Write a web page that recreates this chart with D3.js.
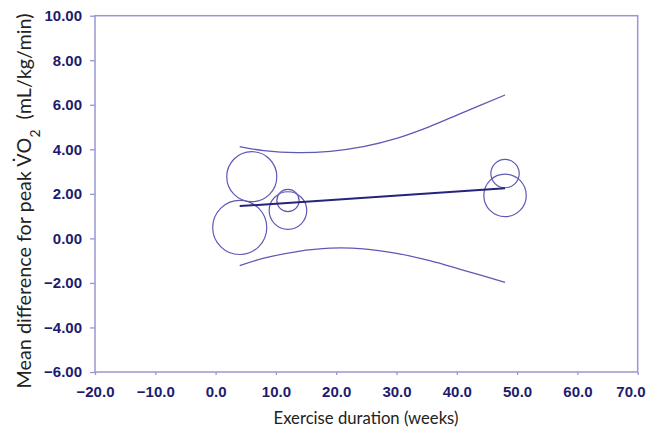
<!DOCTYPE html>
<html>
<head>
<meta charset="utf-8">
<script src="https://cdn.jsdelivr.net/npm/d3@7"></script>
<style>
  body { margin: 0; background: #fff; }
  svg { display: block; }
  .tick text { font-family: "Liberation Sans", Arial, sans-serif; font-weight: bold; font-size: 15px; fill: #1d1b6e; }
  .tick line { stroke: #9a96d0; stroke-width: 1.3; }
  .title { font-family: Lato, "Liberation Sans", sans-serif; fill: #222; }
</style>
</head>
<body>
<svg id="chart" width="646" height="432"></svg>
<script>
// studies: duration (weeks), mean difference, weight (%)
const studyWeeks = [4, 6, 12, 12, 48, 48];
const studyDiff = [0.49, 2.77, 1.25, 1.70, 2.91, 1.93];
const studyWeight = [29.4, 25.2, 14.2, 5.0, 8.1, 18.1];

// meta-regression line
const regWeeks = [4, 48];
const regDiff = [1.45, 2.25];

// confidence band
const bandWeeks = [4, 8, 13.5, 19, 24.5, 30, 35.5, 41, 48];
const bandUpper = [4.12, 3.94, 3.85, 3.91, 4.12, 4.49, 5.02, 5.65, 6.44];
const bandLower = [-1.22, -0.89, -0.59, -0.44, -0.47, -0.67, -1.00, -1.42, -1.97];

const xTicks = [-20, -10, 0, 10, 20, 30, 40, 50, 60, 70];
const yTicks = [-6, -4, -2, 0, 2, 4, 6, 8, 10];

const svg = d3.select("#chart");
const x = d3.scaleLinear().domain([-20, 70]).range([95, 637.7]);
const y = d3.scaleLinear().domain([-6, 10]).range([372, 15.7]);
const r = d3.scaleSqrt().domain([0, 30]).range([0, 27.3]);

// frame
svg.append("rect")
  .attr("x", x(-20)).attr("y", y(10))
  .attr("width", x(70) - x(-20)).attr("height", y(-6) - y(10))
  .attr("fill", "none").attr("stroke", "#9a96d0").attr("stroke-width", 1.5);

// axes
const yAxis = svg.append("g")
  .attr("transform", `translate(${x(-20)},0)`)
  .call(d3.axisLeft(y).tickValues(yTicks).tickFormat(d3.format(".2f")).tickSize(5).tickPadding(8).tickSizeOuter(0));
yAxis.select(".domain").remove();

const xAxis = svg.append("g")
  .attr("transform", `translate(0,${y(-6)})`)
  .call(d3.axisBottom(x).tickValues(xTicks).tickFormat(d3.format(".1f")).tickSize(3).tickPadding(11.5).tickSizeOuter(0));
xAxis.select(".domain").remove();
// last label sits against the right edge
xAxis.selectAll(".tick text").filter(d => d === 70)
  .attr("text-anchor", "end").attr("x", 646 - x(70) - 1);

// confidence band curves
const bandLine = vals => d3.line()
  .x((d, i) => x(bandWeeks[i]))
  .y(d => y(d))
  .curve(d3.curveCatmullRom)(vals);

svg.append("path").attr("d", bandLine(bandUpper))
  .attr("fill", "none").attr("stroke", "#5e59b4").attr("stroke-width", 1.3);
svg.append("path").attr("d", bandLine(bandLower))
  .attr("fill", "none").attr("stroke", "#5e59b4").attr("stroke-width", 1.3);

// study circles
svg.append("g").selectAll("circle")
  .data(studyWeeks)
  .join("circle")
  .attr("cx", d => x(d))
  .attr("cy", (d, i) => y(studyDiff[i]))
  .attr("r", (d, i) => r(studyWeight[i]))
  .attr("fill", "none")
  .attr("stroke", "#5e59b4")
  .attr("stroke-width", 1.2);

// regression line
svg.append("line")
  .attr("x1", x(regWeeks[0])).attr("y1", y(regDiff[0]))
  .attr("x2", x(regWeeks[1])).attr("y2", y(regDiff[1]))
  .attr("stroke", "#25237a").attr("stroke-width", 2);

// titles, sized so they span the same length as in the original
function fitSize(sel, base, target) {
  const len = sel.node().getComputedTextLength();
  sel.style("font-size", (base * target / len) + "px");
}

const xt = svg.append("text").attr("class", "title")
  .attr("x", 366).attr("y", 424)
  .attr("text-anchor", "middle")
  .style("font-size", "18px")
  .text("Exercise duration (weeks)");
fitSize(xt, 18, 185);

const yt = svg.append("text").attr("class", "title")
  .attr("transform", "translate(31,201) rotate(-90)")
  .attr("text-anchor", "middle")
  .style("font-size", "20px");
yt.append("tspan").text("Mean difference for peak V\u0307O");
yt.append("tspan").attr("baseline-shift", "sub").style("font-size", "0.7em").text("2");
yt.append("tspan").attr("baseline-shift", "0").text("\u00a0\u00a0(mL/kg/min)");
fitSize(yt, 20, 375);
</script>
</body>
</html>
